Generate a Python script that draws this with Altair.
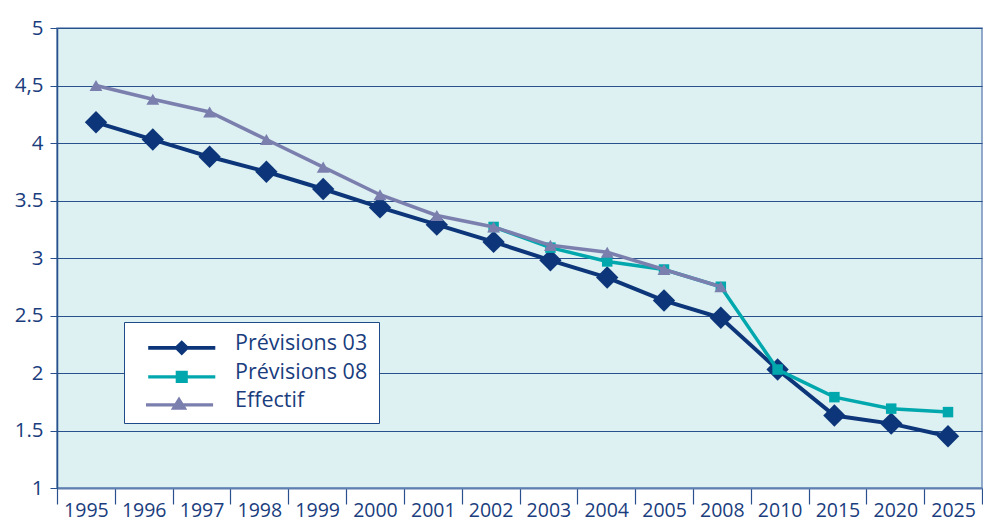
import altair as alt
import pandas as pd

# Category axis (irregular spacing after 2005, shown as equal steps)
years = ["1995", "1996", "1997", "1998", "1999", "2000", "2001", "2002",
         "2003", "2004", "2005", "2008", "2010", "2015", "2020", "2025"]

# Series values
previsions_03 = [4.18, 4.03, 3.88, 3.75, 3.60, 3.44, 3.29, 3.14,
                 2.98, 2.83, 2.63, 2.48, 2.03, 1.63, 1.56, 1.45]
previsions_08 = [None, None, None, None, None, None, None, 3.27,
                 3.09, 2.97, 2.90, 2.75, 2.03, 1.79, 1.69, 1.66]
effectif = [4.50, 4.38, 4.27, 4.03, 3.79, 3.55, 3.37, 3.27,
            3.11, 3.05, 2.90, 2.75, None, None, None, None]

series_names = ["Prévisions 03", "Prévisions 08", "Effectif"]
y_ticks = [1, 1.5, 2, 2.5, 3, 3.5, 4, 4.5, 5]

# Styling
series_colors = ["#0c3679", "#00a8ae", "#7b7fae"]
marker_shapes = ["diamond", "square", "triangle-up"]
marker_sizes = [500, 110, 165]
line_widths = [4, 3.5, 3.5]
text_color = "#1a3d7e"
grid_color = "#28508c"
bg_color = "#ddf0f2"
font = "Open Sans"

# Legend glyphs: a short line with the series marker in its middle
# (unit = half the symbol size, drawn to the right of the symbol anchor)
legend_glyphs = [
    "M0.2,0.18L6.3,0.18L6.3,0.52L0.2,0.52Z"
    "M3.25,-0.35L3.95,0.35L3.25,1.05L2.55,0.35Z",
    "M0.2,0.21L6.3,0.21L6.3,0.49L0.2,0.49Z"
    "M2.7,-0.2L3.8,-0.2L3.8,0.9L2.7,0.9Z",
    "M0,0.21L6.1,0.21L6.1,0.49L0,0.49Z"
    "M3.0,-0.4L3.75,0.8L2.25,0.8Z",
]

series_values = [previsions_03, previsions_08, effectif]

W, H = 925, 460

y_axis = alt.Axis(
    values=y_ticks,
    labelExpr="datum.value == 4.5 ? '4,5' : format(datum.value, '~g')",
    title=None,
    grid=True,
    gridColor=grid_color,
    gridWidth=1,
    domainColor=grid_color,
    domainWidth=1.5,
    tickColor=grid_color,
    tickSize=7,
    labelPadding=7,
    labelFont=font,
    labelFontSize=20.5,
    labelColor=text_color,
)
y_enc = alt.Y("value:Q", scale=alt.Scale(domain=[1, 5], nice=False, zero=False), axis=y_axis)

# Marker positions along x
x_points = alt.X(
    "year:O",
    scale=alt.Scale(type="point", domain=years, range=[39, 891], padding=0),
    axis=None,
)

color_scale = alt.Scale(domain=series_names, range=series_colors)


def series_frame(name, values):
    return pd.DataFrame(
        [{"year": y, "series": name, "value": v} for y, v in zip(years, values) if v is not None]
    )


all_data = pd.concat([series_frame(n, v) for n, v in zip(series_names, series_values)],
                     ignore_index=True)

# Band axis with ticks on category boundaries
axis_layer = alt.Chart(all_data).mark_point(opacity=0).encode(
    x=alt.X(
        "year:O",
        scale=alt.Scale(type="band", domain=years, paddingInner=0, paddingOuter=0),
        axis=alt.Axis(
            title=None,
            labelAngle=0,
            tickBand="extent",
            tickSize=16,
            tickColor=grid_color,
            tickWidth=1.2,
            domainColor="#5f7fb0",
            domainWidth=2,
            labelPadding=-3,
            labelFont=font,
            labelFontSize=19.5,
            labelColor=text_color,
        ),
    ),
    y=y_enc,
)

# One line + marker layer per series, drawn in series order
series_layers = []
for name, values, col, shp, sz, lw in zip(series_names, series_values, series_colors,
                                          marker_shapes, marker_sizes, line_widths):
    df = series_frame(name, values)
    base = alt.Chart(df).encode(x=x_points, y=y_enc)
    series_layers.append(base.mark_line(color=col, strokeWidth=lw))
    series_layers.append(
        base.mark_point(filled=True, opacity=1, color=col, shape=shp, size=sz, strokeWidth=0)
    )

legend_spec = alt.Legend(
    title=None,
    orient="none",
    legendX=67,
    legendY=294,
    fillColor="white",
    strokeColor="#1f4a8a",
    padding=11,
    rowPadding=6,
    symbolSize=484,
    symbolOpacity=1,
    symbolStrokeWidth=0,
    labelOffset=78,
    labelFont=font,
    labelFontSize=21.5,
    labelColor=text_color,
    labelLimit=300,
)

legend_layer = alt.Chart(all_data).mark_point(filled=True, opacity=0, size=484).encode(
    x=x_points,
    y=y_enc,
    color=alt.Color("series:N", scale=color_scale, legend=legend_spec),
    shape=alt.Shape(
        "series:N", scale=alt.Scale(domain=series_names, range=legend_glyphs), legend=legend_spec
    ),
)

chart = (
    alt.layer(axis_layer, *series_layers, legend_layer)
    .resolve_scale(x="independent", color="independent", shape="independent")
    .properties(
        width=W,
        height=H,
        autosize=alt.AutoSizeParams(type="none"),
        padding={"left": 57, "top": 28, "right": 1, "bottom": 33},
        background="white",
    )
    .configure_view(fill=bg_color, stroke="#7390bb", strokeWidth=1.5)
)

chart.save("out.html", embed_options={"renderer": "svg", "actions": False})
